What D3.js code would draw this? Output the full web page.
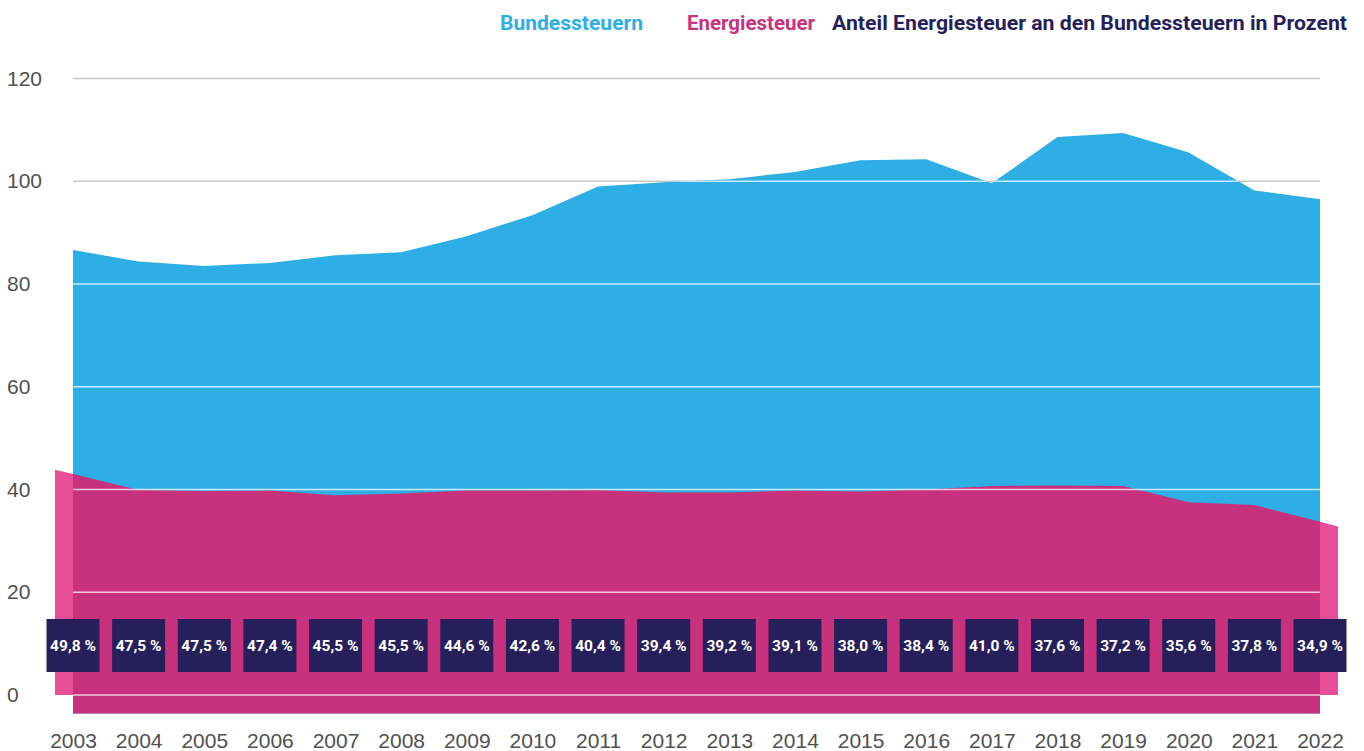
<!DOCTYPE html>
<html>
<head>
<meta charset="utf-8">
<script src="https://cdn.jsdelivr.net/npm/d3@7"></script>
<style>
  body { margin: 0; background: #fff; }
  svg { display: block; }
</style>
</head>
<body>
<div id="chart"></div>
<script>
const width = 1364
const height = 751

// data (Mrd. Euro)
const years = [2003, 2004, 2005, 2006, 2007, 2008, 2009, 2010, 2011, 2012, 2013, 2014, 2015, 2016, 2017, 2018, 2019, 2020, 2021, 2022]
const bundessteuern = [86.6, 84.4, 83.5, 84.1, 85.6, 86.2, 89.3, 93.4, 99.0, 99.8, 100.4, 101.8, 104.1, 104.3, 99.6, 108.6, 109.4, 105.6, 98.2, 96.5]
const energiesteuer = [43.0, 39.9, 39.7, 39.8, 38.9, 39.2, 39.8, 39.8, 39.9, 39.4, 39.4, 39.8, 39.6, 40.0, 40.7, 40.8, 40.7, 37.5, 37.0, 33.7]
const anteil = ['49,8 %', '47,5 %', '47,5 %', '47,4 %', '45,5 %', '45,5 %', '44,6 %', '42,6 %', '40,4 %', '39,4 %', '39,2 %', '39,1 %', '38,0 %', '38,4 %', '41,0 %', '37,6 %', '37,2 %', '35,6 %', '37,8 %', '34,9 %']
const yTicks = [0, 20, 40, 60, 80, 100, 120]
const legendLabels = ['Bundessteuern', 'Energiesteuer', 'Anteil Energiesteuer an den Bundessteuern in Prozent']

const colors = {
  blue: '#2daee5',
  magenta: '#c8317d',
  pink: '#e84e97',
  navy: '#261f5a',
  grid: '#c8c8c8',
  text: '#505050',
}
const narrow = '"Liberation Sans Narrow", "Roboto", sans-serif'

const data = years.map((yr, i) => ({ year: yr, bund: bundessteuern[i], energie: energiesteuer[i], anteil: anteil[i] }))

const svg = d3.select('#chart').append('svg').attr('width', width).attr('height', height)

const x = d3.scaleLinear().domain([2003, 2022]).range([73, 1320])
const y = d3.scaleLinear().domain([0, 120]).range([695, 78.5])
const bottom = y(-3.6)
const ext = 18 // the light pink layer sticks out this many px on both sides

// grey grid behind everything
const gridGroup = svg.append('g').attr('class', 'gridGroup')
gridGroup.selectAll('line').data(yTicks).enter().append('line')
  .attr('x1', x(2003)).attr('x2', x(2022))
  .attr('y1', d => y(d)).attr('y2', d => y(d))
  .attr('stroke', colors.grid).attr('stroke-width', 1.3)

// light pink layer: energiesteuer top line, extended by ext px each side, down to 0
const first = data[0], second = data[1]
const last = data[data.length - 1], prev = data[data.length - 2]
const slopeL = (second.energie - first.energie) / (x(second.year) - x(first.year))
const slopeR = (last.energie - prev.energie) / (x(last.year) - x(prev.year))
const pinkPts = [{ px: x(first.year) - ext, v: first.energie - slopeL * ext }]
  .concat(data.map(d => ({ px: x(d.year), v: d.energie })))
  .concat([{ px: x(last.year) + ext, v: last.energie + slopeR * ext }])

svg.append('path')
  .datum(pinkPts)
  .attr('fill', colors.pink)
  .attr('d', d3.area().x(d => d.px).y0(y(0)).y1(d => y(d.v)))

// blue area
const blueArea = d3.area().x(d => x(d.year)).y0(bottom).y1(d => y(d.bund))
svg.append('path').datum(data).attr('fill', colors.blue).attr('d', blueArea)

// magenta area
svg.append('path').datum(data).attr('fill', colors.magenta)
  .attr('d', d3.area().x(d => x(d.year)).y0(bottom).y1(d => y(d.energie)))

// white grid lines on top of the areas
svg.append('defs').append('clipPath').attr('id', 'areaClip')
  .append('path').datum(data).attr('d', blueArea)
svg.append('g').attr('clip-path', 'url(#areaClip)')
  .selectAll('line').data(yTicks).enter().append('line')
  .attr('x1', x(2003)).attr('x2', x(2022))
  .attr('y1', d => y(d)).attr('y2', d => y(d))
  .attr('stroke', '#fff').attr('stroke-opacity', 0.75).attr('stroke-width', 1.5)

// percentage boxes
const boxSize = 53
const boxes = svg.append('g').attr('class', 'boxes')
  .selectAll('g').data(data).enter().append('g')
  .attr('transform', d => `translate(${x(d.year)}, 645.5)`)
boxes.append('rect')
  .attr('x', -boxSize / 2).attr('y', -boxSize / 2)
  .attr('width', boxSize).attr('height', boxSize)
  .attr('fill', colors.navy)
boxes.append('text')
  .attr('text-anchor', 'middle').attr('y', 5.5)
  .attr('fill', '#fff')
  .attr('font-family', narrow).attr('font-weight', 'bold').attr('font-size', 15.5)
  .text(d => d.anteil)

// axes
const xAxis = d3.axisBottom(x).tickValues(years).tickFormat(d3.format('d')).tickSize(0)
const xAxisGroup = svg.append('g').attr('transform', 'translate(0, 733)').call(xAxis)
const yAxis = d3.axisLeft(y).tickValues(yTicks).tickSize(0)
const yAxisGroup = svg.append('g').attr('transform', 'translate(0, 0)').call(yAxis)

svg.selectAll('.domain').remove()
xAxisGroup.selectAll('.tick text').attr('dy', '0.71em').attr('y', 0)
yAxisGroup.selectAll('.tick text').attr('x', 7).attr('text-anchor', 'start')
svg.selectAll('.tick text')
  .attr('font-family', '"Liberation Sans", Arial, sans-serif')
  .attr('font-size', 21)
  .attr('fill', colors.text)

// legend
const legend = svg.append('g').attr('class', 'legend')
  .attr('font-family', narrow).attr('font-weight', 'bold').attr('font-size', 21)
const legendPos = [500, 687, 832]
const legendWidth = [143, 128, 515]
const legendColor = [colors.blue, colors.magenta, colors.navy]
legend.selectAll('text').data(legendLabels).enter().append('text')
  .attr('x', (d, i) => legendPos[i]).attr('y', 30)
  .attr('fill', (d, i) => legendColor[i])
  .attr('textLength', (d, i) => legendWidth[i])
  .attr('lengthAdjust', 'spacingAndGlyphs')
  .text(d => d)
</script>
</body>
</html>
